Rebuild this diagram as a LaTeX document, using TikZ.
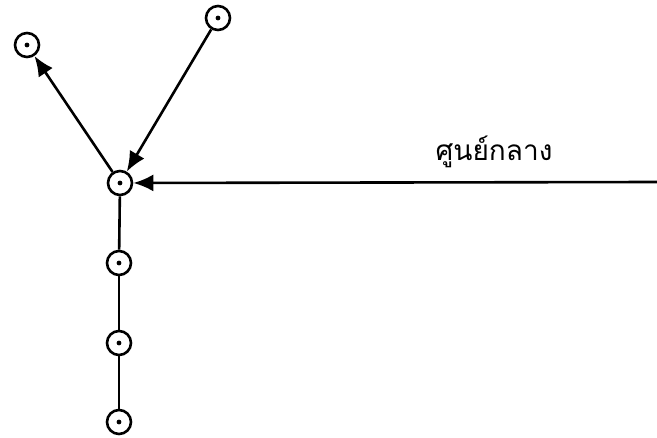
\documentclass[tikz,border=0pt]{standalone}
\usepackage{fontspec}
\newfontfamily\thaifont[Script=Thai]{Loma}
\usetikzlibrary{arrows.meta}
\tikzset{
  pt/.style={circle,draw,line width=2.6pt,minimum size=24pt,inner sep=0pt,
    path picture={\fill (path picture bounding box.center) circle (2.4pt);}},
  link/.style={line width=2.6pt},
  arr/.style={link,-{Latex[length=20pt,width=17pt]}}
}
\begin{document}
\begin{tikzpicture}[x=1pt,y=-1pt]
\useasboundingbox (0,0) rectangle (657,438);
\node[pt] (c) at (120,183) {};
\node[pt] (tl) at (27,45) {};
\node[pt] (tr) at (218,18) {};
\node[pt] (v1) at (119,263) {};
\node[pt] (v2) at (119,343) {};
\node[pt] (v3) at (119,422) {};
\coordinate (r) at (657,182);
\draw[arr] (c) -- (tl);
\draw[arr] (tr) -- (c);
\draw[arr] (r) -- (c);
\draw[link] (v1) -- (c);
\draw[link] (v1) -- (v2);
\draw[link] (v2) -- (v3);
\node[font=\thaifont\fontsize{28}{32}\selectfont] (lbl) at (494,152) {ศูนย์กลาง};
\end{tikzpicture}
\end{document}
